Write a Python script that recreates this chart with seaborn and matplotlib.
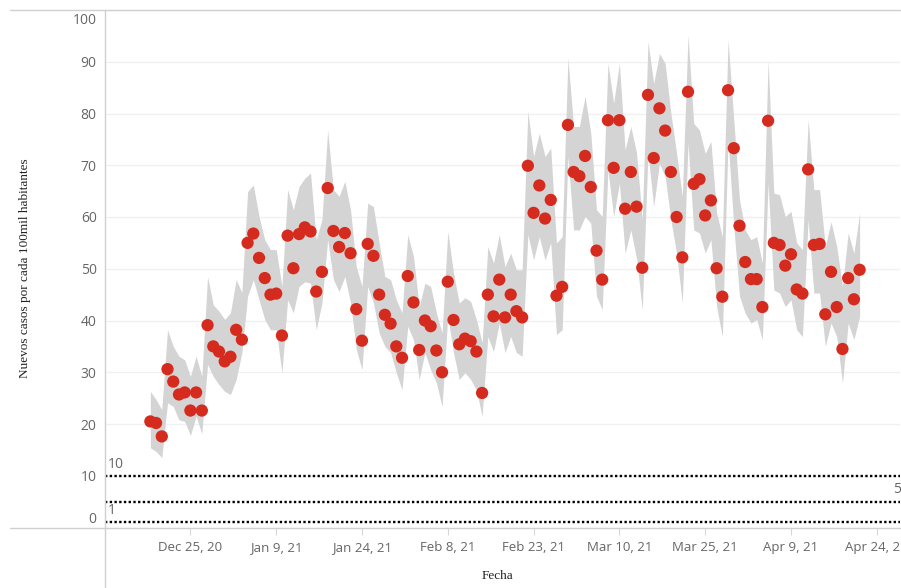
import matplotlib
matplotlib.use("Agg")
import matplotlib.pyplot as plt
from matplotlib.lines import Line2D
import matplotlib.transforms as mtransforms
import seaborn as sns
import pandas as pd
import numpy as np

# ---------------- data ----------------
fecha_inicio = "2020-12-18"
n_dias = 125

casos = [
    20.5, 20.2, 17.6, 30.6, 28.2, 25.7, 26.1, 22.6, 26.1, 22.6,
    39.1, 35.0, 34.0, 32.1, 33.0, 38.2, 36.3, 55.0, 56.8, 52.1,
    48.2, 45.0, 45.2, 37.1, 56.4, 50.1, 56.7, 58.0, 57.2, 45.6,
    49.4, 65.6, 57.3, 54.2, 56.9, 53.0, 42.2, 36.1, 54.8, 52.5,
    45.0, 41.1, 39.4, 35.0, 32.8, 48.6, 43.5, 34.3, 40.0, 38.9,
    34.2, 30.0, 47.5, 40.1, 35.4, 36.5, 36.0, 34.0, 26.0, 45.0,
    40.8, 47.9, 40.6, 45.0, 41.8, 40.6, 69.9, 60.8, 66.1, 59.7,
    63.3, 44.8, 46.5, 77.8, 68.7, 67.9, 71.8, 65.8, 53.5, 47.9,
    78.7, 69.5, 78.7, 61.6, 68.7, 62.0, 50.2, 83.6, 71.4, 81.0,
    76.7, 68.7, 60.0, 52.2, 84.2, 66.4, 67.3, 60.3, 63.2, 50.1,
    44.6, 84.5, 73.3, 58.3, 51.3, 48.0, 48.0, 42.6, 78.6, 55.0,
    54.6, 50.6, 52.8, 46.0, 45.2, 69.2, 54.6, 54.8, 41.2, 49.4,
    42.6, 34.5, 48.2, 44.1, 49.8,
]

banda_inf = [
    15.4, 14.7, 13.5, 24.1, 23.4, 20.8, 20.5, 17.8, 21.5, 18.1,
    31.5, 29.2, 27.6, 26.3, 25.7, 28.6, 33.8, 44.7, 47.9, 44.0,
    40.2, 38.2, 38.2, 29.9, 44.0, 41.5, 46.6, 47.5, 47.2, 38.2,
    43.4, 55.6, 47.9, 45.6, 48.5, 43.4, 34.4, 30.5, 46.6, 43.4,
    37.6, 35.0, 33.8, 29.9, 26.6, 38.9, 36.3, 28.6, 33.8, 30.5,
    28.0, 23.4, 40.8, 33.8, 28.6, 29.9, 28.6, 26.6, 21.5, 36.9,
    34.0, 39.5, 33.8, 36.9, 33.8, 33.1, 56.6, 51.7, 56.2, 51.7,
    55.0, 37.3, 38.2, 71.7, 57.5, 57.5, 60.1, 58.8, 44.7, 42.1,
    69.1, 60.1, 66.5, 53.0, 57.5, 52.0, 42.1, 72.4, 62.0, 70.4,
    67.8, 59.5, 53.0, 43.4, 74.3, 57.5, 56.9, 53.0, 55.6, 42.7,
    36.9, 74.9, 58.2, 44.7, 41.4, 39.5, 40.2, 36.3, 66.5, 45.9,
    45.3, 42.7, 44.0, 38.2, 36.9, 59.5, 45.3, 45.3, 35.0, 39.5,
    36.9, 27.9, 39.5, 36.3, 40.8,
]

banda_sup = [
    26.3, 24.7, 22.8, 38.2, 35.0, 33.1, 32.4, 29.2, 33.1, 29.2,
    48.5, 43.0, 41.8, 40.2, 41.5, 47.9, 45.4, 64.9, 66.2, 60.1,
    55.6, 53.7, 53.7, 46.6, 65.3, 61.4, 65.9, 67.5, 68.5, 55.6,
    59.5, 76.8, 65.3, 64.0, 66.9, 61.4, 50.4, 46.6, 62.7, 62.0,
    55.0, 48.5, 47.9, 44.0, 41.5, 56.6, 52.4, 42.7, 47.2, 46.6,
    41.5, 37.6, 57.2, 49.2, 43.4, 44.4, 43.7, 40.2, 35.7, 54.3,
    51.1, 56.6, 50.4, 53.0, 49.8, 49.8, 80.4, 71.7, 76.2, 71.7,
    73.3, 55.0, 56.2, 90.7, 77.5, 77.5, 83.3, 76.2, 61.4, 60.1,
    89.7, 82.0, 89.7, 73.0, 77.5, 72.4, 59.5, 93.9, 85.8, 91.6,
    89.7, 80.1, 72.3, 64.0, 95.2, 78.1, 76.8, 72.3, 74.6, 60.8,
    56.2, 94.2, 78.8, 63.3, 57.5, 55.6, 56.2, 51.1, 90.3, 64.6,
    64.3, 60.1, 61.1, 55.0, 53.7, 78.8, 65.3, 65.3, 54.3, 59.1,
    54.3, 46.6, 56.9, 53.0, 60.8,
]

referencias = [10, 5, 1]

tick_fechas = ["2020-12-25", "2021-01-09", "2021-01-24", "2021-02-08", "2021-02-23",
               "2021-03-10", "2021-03-25", "2021-04-09", "2021-04-24"]
tick_etiquetas = ["Dec 25, 20", "Jan 9, 21", "Jan 24, 21", "Feb 8, 21", "Feb 23, 21",
                  "Mar 10, 21", "Mar 25, 21", "Apr 9, 21", "Apr 24, 21"]
y_ticks = [0, 10, 20, 30, 40, 50, 60, 70, 80, 90, 100]

fechas = pd.date_range(fecha_inicio, periods=n_dias, freq="D")
df = pd.DataFrame({"Fecha": fechas, "casos": casos, "inf": banda_inf, "sup": banda_sup})

# ---------------- style ----------------
sns.set_theme(style="white")
plt.rcParams["font.family"] = ["Open Sans", "DejaVu Sans"]

W, H = 901, 588
fig = plt.figure(figsize=(W / 100, H / 100), dpi=100)
left_px, right_px, top_px, bot_px = 105, 900, 10, 527.5
ax = fig.add_axes([left_px / W, 1 - bot_px / H, (right_px - left_px) / W, (bot_px - top_px) / H])

ax.fill_between(df["Fecha"], df["inf"], df["sup"], color="#d4d4d4", lw=0, zorder=1)
sns.scatterplot(data=df, x="Fecha", y="casos", s=78, color="#d52b1e", edgecolor="none",
                linewidth=0, zorder=3, ax=ax)

for val in referencias:
    ax.axhline(val, color="black", lw=1.7, ls=(0, (1, 1)), zorder=2)

lab_col = "#666666"
ax.annotate("10", xy=(0.004, 10), xycoords=("axes fraction", "data"), xytext=(0, 3),
            textcoords="offset points", ha="left", va="bottom", fontsize=10, color=lab_col)
ax.annotate("1", xy=(0.004, 1), xycoords=("axes fraction", "data"), xytext=(0, 3),
            textcoords="offset points", ha="left", va="bottom", fontsize=10, color=lab_col)
ax.annotate("5", xy=(0.991, 5), xycoords=("axes fraction", "data"), xytext=(0, 3),
            textcoords="offset points", ha="left", va="bottom", fontsize=10, color=lab_col)

x0 = pd.Timestamp("2020-12-25") - pd.Timedelta(days=14.93)
x1 = pd.Timestamp("2020-12-25") + pd.Timedelta(days=124.06)
ax.set_xlim(x0, x1)
ax.set_ylim(0, 100)

ax.set_yticks(y_ticks)
ax.set_yticklabels([str(v) for v in y_ticks])
ax.set_xticks(pd.to_datetime(tick_fechas))
ax.set_xticklabels(tick_etiquetas)
ax.tick_params(axis="y", length=0, pad=6, labelsize=10, labelcolor=lab_col)
ax.tick_params(axis="x", length=5, width=0.8, color="#d8d8d8", direction="out", pad=5,
               labelsize=9.5, labelcolor=lab_col, bottom=True)
ax.yaxis.grid(True, color="#f0f0f0", lw=1)
ax.xaxis.grid(False)
for s in ax.spines.values():
    s.set_visible(False)
ax.set_xlabel("")
ax.set_ylabel("")

# keep first / last y tick labels inside the pane, as Tableau does
ylabels = ax.get_yticklabels()
ylabels[0].set_transform(ylabels[0].get_transform() +
                         mtransforms.ScaledTranslation(0, 10 / 100, fig.dpi_scale_trans))
ylabels[-1].set_transform(ylabels[-1].get_transform() +
                          mtransforms.ScaledTranslation(0, -8 / 100, fig.dpi_scale_trans))

# pane borders (Tableau style)
border = "#d0d0d0"
fig.add_artist(Line2D([left_px / W, left_px / W], [0, 1 - top_px / H], color=border, lw=1,
                      transform=fig.transFigure))
fig.add_artist(Line2D([10 / W, 1], [1 - top_px / H, 1 - top_px / H], color=border, lw=1,
                      transform=fig.transFigure))
fig.add_artist(Line2D([10 / W, 1], [1 - bot_px / H, 1 - bot_px / H], color=border, lw=1,
                      transform=fig.transFigure))

fig.text(25 / W, 1 - 268 / H, "Nuevos casos por cada 100mil habitantes", rotation=90,
         ha="center", va="center", fontsize=9.5, family=["Liberation Serif"], color="#222222")
fig.text(497 / W, 1 - 576 / H, "Fecha", ha="center", va="center", fontsize=9.5,
         family=["Liberation Serif"], color="#222222")

fig.savefig("out.png", dpi=100)
